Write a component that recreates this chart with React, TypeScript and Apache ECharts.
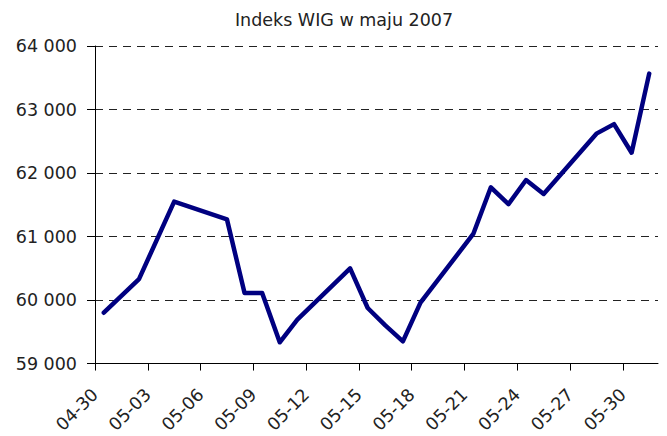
import React, { useEffect, useRef } from "react";
import * as echarts from "echarts";

const titleText = "Indeks WIG w maju 2007";
const dates = [
  "04-30", "05-02", "05-04", "05-07", "05-08", "05-09", "05-10", "05-11",
  "05-14", "05-15", "05-16", "05-17", "05-18", "05-21", "05-22", "05-23",
  "05-24", "05-25", "05-28", "05-29", "05-30", "05-31",
];
const values = [
  59800, 60330, 61550, 61270, 60110, 60110, 59335, 59690,
  60500, 59875, 59600, 59350, 59960, 61040, 61775, 61510,
  61890, 61670, 62620, 62770, 62320, 63565,
];
const tickDays = [0, 3, 6, 9, 12, 15, 18, 21, 24, 27, 30];
const yMin = 59000;
const yMax = 64000;
const yStep = 1000;

const DAY = 86400000;
const base = Date.UTC(2007, 3, 30);
function dayIndex(md: string): number {
  const [m, d] = md.split("-").map(Number);
  return Math.round((Date.UTC(2007, m - 1, d) - base) / DAY);
}
function dayLabel(idx: number): string {
  const dt = new Date(base + idx * DAY);
  const m = String(dt.getUTCMonth() + 1).padStart(2, "0");
  const d = String(dt.getUTCDate()).padStart(2, "0");
  return `${m}-${d}`;
}

const FONT = "DejaVu Sans";

export default function App() {
  const ref = useRef<HTMLDivElement>(null);
  useEffect(() => {
    document.body.style.margin = "0";
    if (!ref.current) return;
    const chart = echarts.init(ref.current, undefined, { renderer: "svg" });
    const seriesData = dates.map((d, i) => [dayIndex(d) + 0.5, values[i]]);
    chart.setOption({
      animation: false,
      title: {
        text: titleText,
        left: 339,
        textAlign: "center",
        top: 6,
        textStyle: { fontFamily: FONT, fontSize: 17.5, fontWeight: "normal", color: "#222" },
      },
      grid: { left: 95, right: 9, top: 46, bottom: 72 },
      xAxis: {
        type: "value",
        min: 0,
        max: 32,
        interval: 3,
        axisLine: { show: true, onZero: false, lineStyle: { color: "#000", width: 1 } },
        axisTick: { show: true, length: 7, inside: false, customValues: tickDays, lineStyle: { color: "#000" } },
        axisLabel: {
          customValues: tickDays,
          rotate: 45,
          margin: 28,
          fontFamily: FONT,
          fontSize: 17.5,
          color: "#222",
          formatter: (v: number) => dayLabel(v),
        },
        splitLine: { show: false },
      },
      yAxis: {
        type: "value",
        min: yMin,
        max: yMax,
        interval: yStep,
        axisLine: { show: true, lineStyle: { color: "#000", width: 1 } },
        axisTick: { show: true, length: 8, lineStyle: { color: "#000" } },
        axisLabel: {
          margin: 18,
          fontFamily: FONT,
          fontSize: 17.5,
          color: "#222",
          formatter: (v: number) => String(v).replace(/\B(?=(\d{3})+(?!\d))/g, " "),
        },
        splitLine: { show: true, lineStyle: { color: "#222", width: 1, type: [8, 6] } },
      },
      series: [
        {
          type: "line",
          data: seriesData,
          showSymbol: false,
          symbol: "none",
          lineStyle: { color: "#000080", width: 4.5, cap: "round", join: "round" },
        },
      ],
    });
    return () => chart.dispose();
  }, []);
  return <div ref={ref} style={{ width: 667, height: 436 }} />;
}
